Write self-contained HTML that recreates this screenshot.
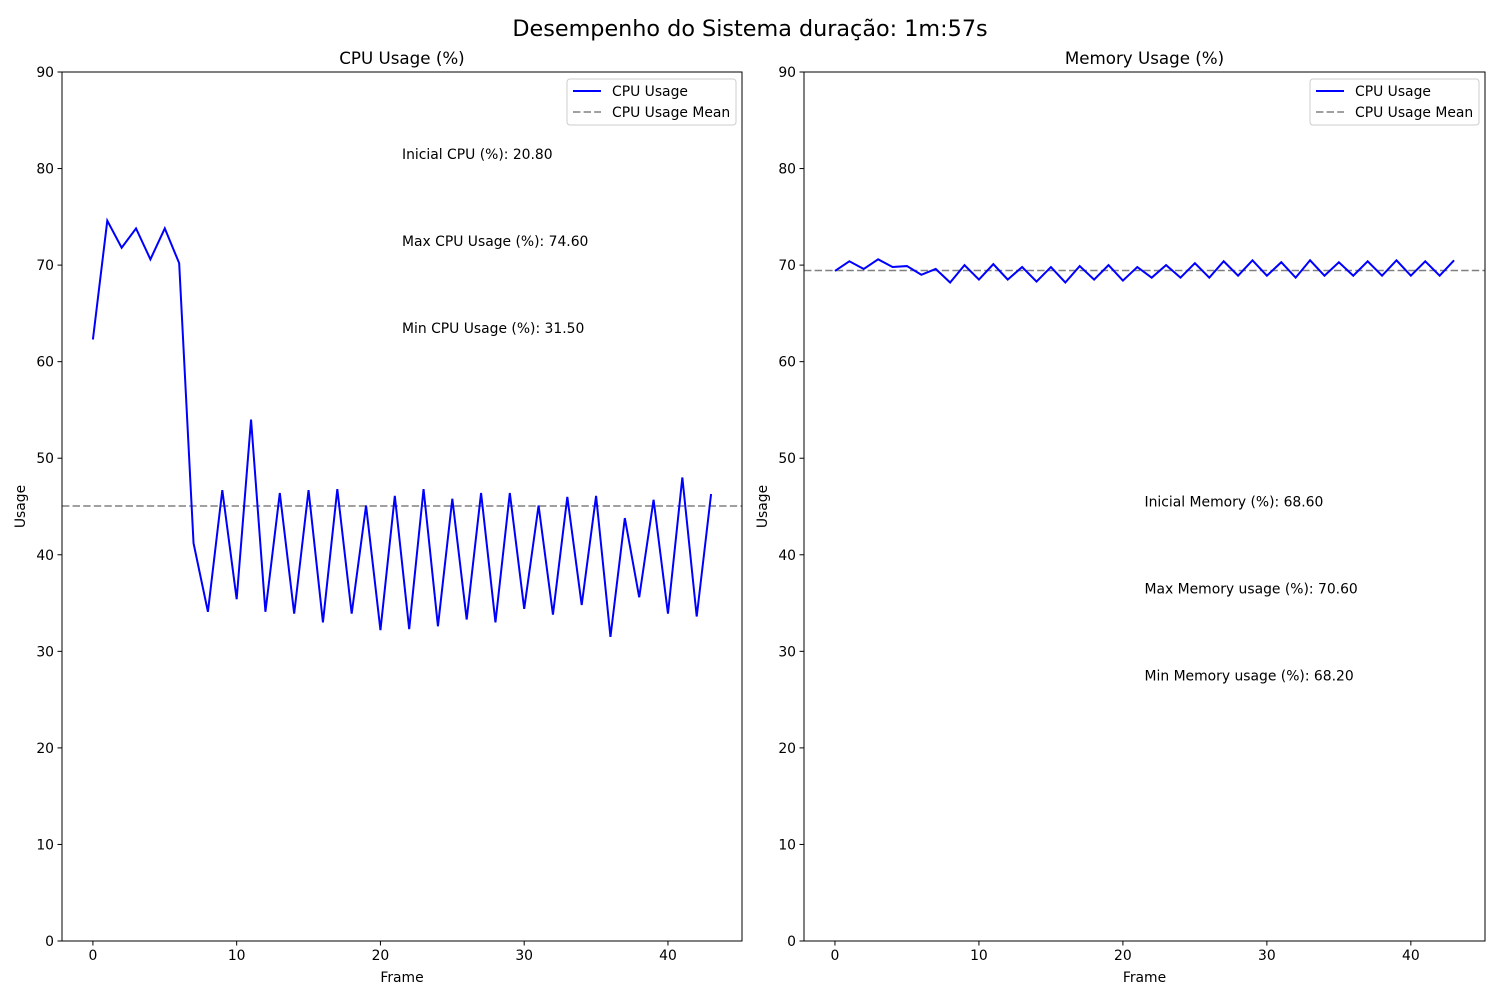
<!DOCTYPE html>
<html><head><meta charset="utf-8"><style>
html,body{margin:0;padding:0;background:#fff;}
svg{display:block;font-family:"DejaVu Sans","Liberation Sans",sans-serif;}
</style></head><body>
<svg id="chart" width="1500" height="1000" viewBox="0 0 1500 1000">
<text x="750" y="36" text-anchor="middle" font-size="22.3">Desempenho do Sistema duração: 1m:57s</text>
</svg>
<script>
const frames = Array.from({length:44},(_,i)=>i);
const cpuValues = [62.3,74.6,71.8,73.8,70.6,73.8,70.2,41.2,34.1,46.7,35.4,54.0,34.1,46.4,33.9,46.7,33.0,46.8,33.9,45.1,32.2,46.1,32.3,46.8,32.6,45.8,33.3,46.4,33.0,46.4,34.4,45.1,33.8,46.0,34.8,46.1,31.5,43.8,35.6,45.7,33.9,48.0,33.6,46.3];
const memValues = [69.4,70.4,69.6,70.6,69.8,69.9,69.0,69.6,68.2,70.0,68.5,70.1,68.5,69.8,68.3,69.8,68.2,69.9,68.5,70.0,68.4,69.8,68.7,70.0,68.7,70.2,68.7,70.4,68.9,70.5,68.9,70.3,68.7,70.5,68.9,70.3,68.9,70.4,68.9,70.5,68.9,70.4,68.9,70.5];
const cpuMean = 45.05;
const memMean = 69.44;
const xTicks = [0,10,20,30,40];
const yTicks = [0,10,20,30,40,50,60,70,80,90];
const cpuAnnotations = ["Inicial CPU (%): 20.80","Max CPU Usage (%): 74.60","Min CPU Usage (%): 31.50"];
const memAnnotations = ["Inicial Memory (%): 68.60","Max Memory usage (%): 70.60","Min Memory usage (%): 68.20"];
const cpuAnnY = [81.5,72.5,63.5];
const memAnnY = [45.5,36.5,27.5];

const NS="http://www.w3.org/2000/svg";
const svg=document.getElementById('chart');
function el(tag,attrs,parent,text){const e=document.createElementNS(NS,tag);for(const k in attrs)e.setAttribute(k,attrs[k]);if(text!=null)e.textContent=text;(parent||svg).appendChild(e);return e;}

function panel(left,right,title,values,mean,anns,annY,key){
  const top=72,bottom=941,xmin=-2.15,xmax=45.15,ymax=90;
  const fs=13.9;
  const sx=v=>left+(v-xmin)/(xmax-xmin)*(right-left);
  const sy=v=>bottom-v/ymax*(bottom-top);
  const g=el('g',{});
  
  
  const t=el('text',{x:(left+right)/2,y:64,'text-anchor':'middle','font-size':16.7},g,title);
  
  
  xTicks.forEach(v=>{
    el('line',{x1:sx(v),x2:sx(v),y1:bottom,y2:bottom+4.5,stroke:'#000','stroke-width':1},g);
    const l=el('text',{x:sx(v),y:bottom+19,'text-anchor':'middle','font-size':fs},g,String(v));
    
    
  });
  yTicks.forEach(v=>{
    el('line',{x1:left-4.5,x2:left,y1:sy(v),y2:sy(v),stroke:'#000','stroke-width':1},g);
    const l=el('text',{x:left-8,y:sy(v)+5,'text-anchor':'end','font-size':fs},g,String(v));
    
    
  });
  const xl=el('text',{x:(left+right)/2,y:982,'text-anchor':'middle','font-size':fs},g,'Frame');
  
  
  const yl=el('text',{x:0,y:0,'text-anchor':'middle','font-size':fs,transform:`translate(${left-37},${(top+bottom)/2}) rotate(-90)`},g,'Usage');
  
  
  const ml=el('line',{x1:left,x2:right,y1:sy(mean),y2:sy(mean),stroke:'#808080','stroke-width':1.5,'stroke-dasharray':'7.4,3.2'},g);
  
  
  const pts=values.map((v,i)=>sx(frames[i]).toFixed(2)+','+sy(v).toFixed(2)).join(' ');
  const pl=el('polyline',{points:pts,fill:'none',stroke:'#0000ff','stroke-width':2,'stroke-linejoin':'miter'},g);
  
  
  anns.forEach((a,i)=>{
    const at=el('text',{x:sx(21.5),y:sy(annY[i])+5,'font-size':fs},g,a);
    
    
  });
  el('rect',{x:left,y:top,width:right-left,height:bottom-top,fill:'none',stroke:'#000','stroke-width':1},g);
  const lg=el('g',{},g);
  
  
  const lw=169,lx=right-6-lw;
  el('rect',{x:lx,y:79,width:lw,height:46,rx:3,fill:'#fff','fill-opacity':0.8,stroke:'#ccc','stroke-width':1},lg);
  el('line',{x1:lx+6,x2:lx+34,y1:91,y2:91,stroke:'#0000ff','stroke-width':2},lg);
  const e1=el('text',{x:lx+45,y:96,'font-size':fs},lg,'CPU Usage');
  
  
  el('line',{x1:lx+6,x2:lx+34,y1:112,y2:112,stroke:'#808080','stroke-width':1.5,'stroke-dasharray':'7.4,3.2'},lg);
  const e2=el('text',{x:lx+45,y:117,'font-size':fs},lg,'CPU Usage Mean');
  
  
}
panel(62,742,'CPU Usage (%)',cpuValues,cpuMean,cpuAnnotations,cpuAnnY,'cpu');
panel(804,1485,'Memory Usage (%)',memValues,memMean,memAnnotations,memAnnY,'memory');
</script>
</body></html>
